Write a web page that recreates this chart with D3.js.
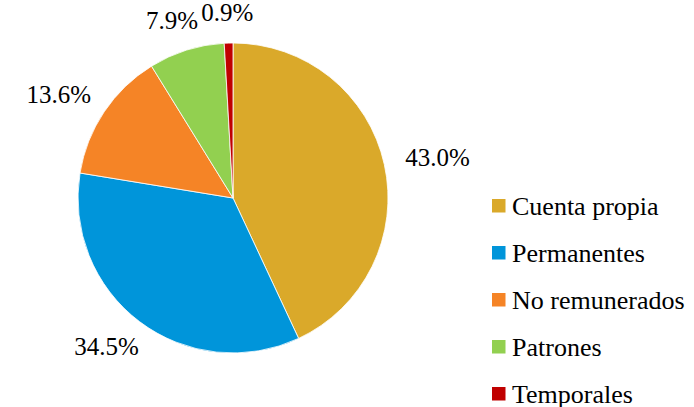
<!DOCTYPE html>
<html>
<head>
<meta charset="utf-8">
<script src="https://cdn.jsdelivr.net/npm/d3@7"></script>
</head>
<body style="margin:0">
<svg id="chart" width="694" height="407"></svg>
<script>
// Data.
const categories = ["Cuenta propia", "Permanentes", "No remunerados", "Patrones", "Temporales"];
const shares = [43.0, 34.5, 13.6, 7.9, 0.9];
const colors = ["#DAA92A", "#0095DA", "#F58426", "#92D050", "#C00000"];

const svg = d3.select("#chart");
const cx = 233, cy = 198, radius = 155;
const labelRadius = 177;
const labelSize = 25;

const pie = d3.pie().sort(null).value(d => d)(shares);
const arc = d3.arc().innerRadius(0).outerRadius(radius);

svg.append("g")
  .attr("transform", `translate(${cx},${cy})`)
  .selectAll("path")
  .data(pie)
  .join("path")
  .attr("d", arc)
  .attr("fill", (d, i) => colors[i])
  .attr("stroke", "#fff")
  .attr("stroke-width", 0.8);

// Texts go straight into the svg (no wrapping group), absolute coordinates.
// Label width is estimated (~0.52em per glyph in Times) rather than measured.
svg.selectAll("text.lbl")
  .data(pie)
  .join("text")
  .attr("class", "lbl")
  .attr("font-size", labelSize)
  .style("font-family", () => `"Liberation Serif"`)
  .attr("text-anchor", "middle")
  .attr("x", d => {
    const a = (d.startAngle + d.endAngle) / 2;
    const w = (d.value.toFixed(1) + "%").length * 0.52 * labelSize;
    return cx + Math.sin(a) * (labelRadius + w / 2);
  })
  .attr("y", d => {
    const a = (d.startAngle + d.endAngle) / 2;
    return cy - Math.cos(a) * (labelRadius + 9) + 8.5;  // +8.5: centre -> baseline
  })
  .text(d => d.value.toFixed(1) + "%");

// Legend
const legendY = d3.scalePoint().domain(categories).range([206, 394]);
svg.selectAll("rect.key")
  .data(categories)
  .join("rect")
  .attr("class", "key")
  .attr("x", 492).attr("y", d => legendY(d) - 7)
  .attr("width", 13.5).attr("height", 13.5)
  .attr("fill", (d, i) => colors[i]);
svg.selectAll("text.key")
  .data(categories)
  .join("text")
  .attr("class", "key")
  .attr("x", 512).attr("y", d => legendY(d) + 8.5)
  .attr("font-size", 26)
  .style("font-family", () => `"Liberation Serif"`)
  .text(d => d);
</script>
</body>
</html>
